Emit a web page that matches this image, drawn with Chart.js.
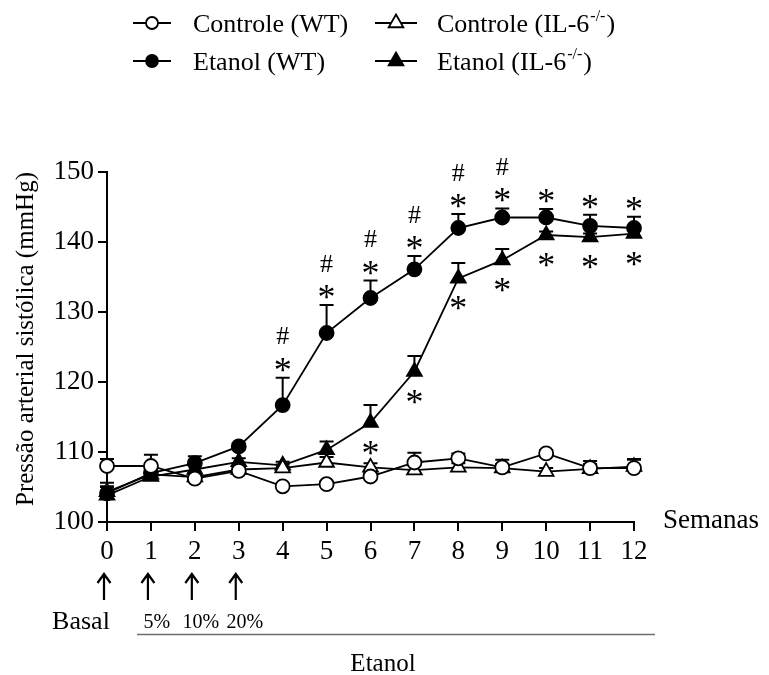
<!DOCTYPE html>
<html><head><meta charset="utf-8">
<script src="https://cdn.jsdelivr.net/npm/chart.js@4/dist/chart.umd.min.js"></script>
<style>html,body{margin:0;padding:0;background:#fff}</style>
</head><body>
<canvas id="c" width="769" height="675"></canvas>
<script>
// ---- data ----
const weeks = [0,1,2,3,4,5,6,7,8,9,10,11,12];
const xTicks = [0,1,2,3,4,5,6,7,8,9,10,11,12];
const yTicks = [100,110,120,130,140,150];
const controleWT     = [108.0,108.0,106.2,107.3,105.1,105.4,106.5,108.5,109.1,107.8,109.8,107.7,107.7];
const controleWTErr  = [1.0,1.6,0.6,0.5,0.4,0.4,0.5,1.4,0.7,1.1,0.5,1.0,1.3];
const controleIL6    = [104.3,106.8,106.4,107.5,107.7,108.5,107.8,107.4,107.8,107.7,107.2,107.6,107.9];
const controleIL6Err = [0.8,0.6,0.6,0.5,0.5,0.8,0.6,0.8,0.6,0.6,0.5,0.7,1.0];
const etanolWT       = [104.1,107.0,108.4,110.8,116.7,127.0,132.0,136.1,142.0,143.5,143.5,142.3,142.0];
const etanolWTErr    = [1.5,0.8,1.0,0.4,3.9,4.0,2.5,1.9,2.0,1.3,1.2,1.6,1.6];
const etanolIL6      = [103.8,106.5,107.5,108.6,108.1,110.3,114.2,121.5,134.8,137.4,141.0,140.7,141.2];
const etanolIL6Err   = [1.2,0.7,0.7,0.5,0.5,1.2,2.5,2.2,2.2,1.6,0.5,0.5,0.6];
const wtStarWeeks  = [4,5,6,7,8,9,10,11,12];
const wtHashWeeks  = [4,5,6,7,8,9];
const il6StarWeeks = [6,7,8,9,10,11,12];
const arrowWeeks   = [0,1,2,3];
const arrowLabels  = ['Basal','5%','10%','20%'];
const legendMain = ['Controle (WT)','Controle (IL-6','Etanol (WT)','Etanol (IL-6'];
const legendSup  = ['','-/-','','-/-'];
const legendTail = ['',')','',')'];
const yTitle = 'Pressão arterial sistólica (mmHg)';
const xTitle = 'Semanas';
const groupTitle = 'Etanol';

const SERIF = "'Liberation Serif', 'Times New Roman', serif";
const pts = arr => weeks.map((w,i)=>({x:w,y:arr[i]}));

const datasets = [
  {label:legendMain[0], data:pts(controleWT), err:controleWTErr, pointStyle:'circle', pointRadius:7, pointBackgroundColor:'#fff', order:1},
  {label:legendMain[1], data:pts(controleIL6), err:controleIL6Err, pointStyle:'triangle', pointRadius:8.5, pointBackgroundColor:'#fff', order:3},
  {label:legendMain[2], data:pts(etanolWT), err:etanolWTErr, pointStyle:'circle', pointRadius:7, pointBackgroundColor:'#000', order:2},
  {label:legendMain[3], data:pts(etanolIL6), err:etanolIL6Err, pointStyle:'triangle', pointRadius:8.5, pointBackgroundColor:'#000', order:4}
].map(d=>Object.assign({borderColor:'#000', borderWidth:1.8, pointBorderColor:'#000', pointBorderWidth:1.8, tension:0, fill:false, clip:false, pointHoverRadius:d.pointRadius}, d));

function textC(ctx, s, x, cy, font){
  ctx.font = font;
  ctx.textAlign = 'center';
  ctx.textBaseline = 'alphabetic';
  const m = ctx.measureText(s);
  ctx.fillText(s, x, cy + (m.actualBoundingBoxAscent - m.actualBoundingBoxDescent)/2);
}

const annot = {
  id:'annot',
  beforeDatasetsDraw(chart){
    const ctx = chart.ctx, ys = chart.scales.y;
    ctx.save();
    ctx.strokeStyle = '#000'; ctx.lineWidth = 2;
    chart.data.datasets.forEach((ds,i)=>{
      const meta = chart.getDatasetMeta(i);
      ds.data.forEach((p,j)=>{
        const el = meta.data[j];
        const yt = ys.getPixelForValue(p.y + ds.err[j]);
        ctx.beginPath();
        ctx.moveTo(el.x, el.y); ctx.lineTo(el.x, yt);
        ctx.moveTo(el.x-7, yt); ctx.lineTo(el.x+7, yt);
        ctx.stroke();
      });
    });
    ctx.restore();
  },
  afterDraw(chart){
    const ctx = chart.ctx, xs = chart.scales.x, ys = chart.scales.y;
    ctx.save();
    ctx.fillStyle = '#000'; ctx.strokeStyle = '#000';
    // significance marks
    wtStarWeeks.forEach(w=>{
      const i = weeks.indexOf(w);
      const cy = ys.getPixelForValue(etanolWT[i] + etanolWTErr[i]) - 13;
      textC(ctx, '*', xs.getPixelForValue(w), cy, '36px ' + SERIF);
      if (wtHashWeeks.includes(w)) textC(ctx, '#', xs.getPixelForValue(w), cy - 29, '26px ' + SERIF);
    });
    il6StarWeeks.forEach(w=>{
      const i = weeks.indexOf(w);
      const cy = ys.getPixelForValue(etanolIL6[i]) + 25;
      textC(ctx, '*', xs.getPixelForValue(w), cy, '36px ' + SERIF);
    });
    // legend
    const colX = [152, 396], rowY = [23, 61];
    [[0,0],[1,1],[2,0],[3,1]].forEach(([di,col])=>{
      const row = di < 2 ? 0 : 1;
      const ds = chart.data.datasets[di];
      const cx = colX[col], cy = rowY[row];
      const half = col === 0 ? 19 : 21;
      ctx.strokeStyle = '#000';
      ctx.lineWidth = 1.8;
      ctx.beginPath(); ctx.moveTo(cx-half, cy); ctx.lineTo(cx+half, cy); ctx.stroke();
      ctx.beginPath();
      ctx.fillStyle = ds.pointBackgroundColor;
      const r = ds.pointStyle === 'circle' ? 6 : 8.5;
      if (ds.pointStyle === 'circle') { ctx.arc(cx, cy, r, 0, Math.PI*2); }
      else {
        ctx.moveTo(cx, cy - r);
        ctx.lineTo(cx + r*Math.sin(2*Math.PI/3), cy - r*Math.cos(2*Math.PI/3));
        ctx.lineTo(cx + r*Math.sin(4*Math.PI/3), cy - r*Math.cos(4*Math.PI/3));
        ctx.closePath();
      }
      ctx.fill(); ctx.stroke();
      ctx.fillStyle = '#000';
      ctx.textAlign = 'left'; ctx.textBaseline = 'alphabetic';
      let tx = colX[col] + 41;
      const base = cy + 8.6;
      ctx.font = '26px ' + SERIF;
      ctx.fillText(legendMain[di], tx, base);
      tx += ctx.measureText(legendMain[di]).width;
      if (legendSup[di]) {
        ctx.font = '16px ' + SERIF;
        ctx.fillText(legendSup[di], tx + 1, base - 11);
        tx += ctx.measureText(legendSup[di]).width + 2;
        ctx.font = '26px ' + SERIF;
        ctx.fillText(legendTail[di], tx, base);
      }
    });
    // y title
    ctx.save();
    ctx.translate(26, 339); ctx.rotate(-Math.PI/2);
    ctx.font = '25px ' + SERIF; ctx.textAlign = 'center'; ctx.textBaseline = 'middle';
    ctx.fillText(yTitle, 0, 0);
    ctx.restore();
    // x title
    ctx.font = '27px ' + SERIF; ctx.textAlign = 'left'; ctx.textBaseline = 'middle';
    ctx.fillText(xTitle, 663, 521);
    // arrows + labels
    ctx.strokeStyle = '#000'; ctx.lineWidth = 2.2; ctx.lineCap = 'butt';
    arrowWeeks.forEach((w,i)=>{
      const x = xs.getPixelForValue(w) - 3;
      ctx.beginPath();
      ctx.moveTo(x, 600); ctx.lineTo(x, 574);
      ctx.moveTo(x - 6.5, 583); ctx.lineTo(x, 574); ctx.lineTo(x + 6.5, 583);
      ctx.stroke();
      if (i === 0) textC(ctx, arrowLabels[i], x - 23, 620, '26px ' + SERIF);
      else textC(ctx, arrowLabels[i], x + 9, 621, '20px ' + SERIF);
    });
    ctx.strokeStyle = '#6e6e6e'; ctx.lineWidth = 1.6;
    ctx.beginPath(); ctx.moveTo(137, 634.5); ctx.lineTo(655, 634.5); ctx.stroke();
    textC(ctx, groupTitle, 383, 662, '25px ' + SERIF);
    ctx.restore();
  }
};

new Chart(document.getElementById('c'), {
  type:'line',
  data:{datasets},
  options:{
    responsive:false, animation:false, devicePixelRatio:1,
    layout:{padding:{left:0, top:172, right:135, bottom:0}},
    plugins:{legend:{display:false}, tooltip:{enabled:false}},
    scales:{
      x:{type:'linear', min:0, max:12,
        afterBuildTicks(s){ s.ticks = xTicks.map(v=>({value:v})); },
        ticks:{font:{family:SERIF, size:27}, color:'#000', padding:5, maxRotation:0, autoSkip:false},
        grid:{drawOnChartArea:false, tickLength:9, color:'#000', lineWidth:2},
        border:{color:'#000', width:2},
        afterFit(s){ s.height = 153; }},
      y:{type:'linear', min:100, max:150,
        afterBuildTicks(s){ s.ticks = yTicks.map(v=>({value:v})); },
        ticks:{font:{family:SERIF, size:27}, color:'#000', padding:4},
        grid:{drawOnChartArea:false, tickLength:9, color:'#000', lineWidth:2},
        border:{color:'#000', width:2},
        afterFit(s){ s.width = 107; }}
    }
  },
  plugins:[annot]
});
</script>
</body></html>
